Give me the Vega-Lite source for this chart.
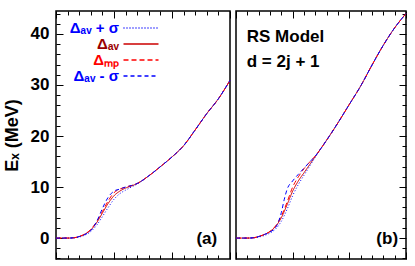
{
  "$schema": "https://vega.github.io/schema/vega-lite/v6.json",
  "padding": {"left": 2, "top": 9, "right": 9, "bottom": 9},
  "spacing": 0,
  "config": {
    "view": {"stroke": "black", "strokeWidth": 1.5},
    "font": "Liberation Sans",
    "axis": {"domain": false, "grid": false, "tickColor": "black", "tickWidth": 1, "labelOverlap": false, "labels": false, "title": null}
  },
  "datasets": {
    "curves": [
      {"panel":"a","series":"Δav","x":0,"y":0},{"panel":"a","series":"Δav","x":0.1,"y":0},{"panel":"a","series":"Δav","x":0.2,"y":0},{"panel":"a","series":"Δav","x":0.3,"y":0.05},{"panel":"a","series":"Δav","x":0.4,"y":0.3},{"panel":"a","series":"Δav","x":0.5,"y":0.8},{"panel":"a","series":"Δav","x":0.6,"y":1.6},{"panel":"a","series":"Δav","x":0.7,"y":3.0},{"panel":"a","series":"Δav","x":0.8,"y":4.9},{"panel":"a","series":"Δav","x":0.9,"y":6.8},{"panel":"a","series":"Δav","x":1.0,"y":8.3},{"panel":"a","series":"Δav","x":1.1,"y":9.2},{"panel":"a","series":"Δav","x":1.2,"y":9.8},{"panel":"a","series":"Δav","x":1.3,"y":10.2},{"panel":"a","series":"Δav","x":1.4,"y":10.7},{"panel":"a","series":"Δav","x":1.6,"y":12.2},{"panel":"a","series":"Δav","x":1.8,"y":14.0},{"panel":"a","series":"Δav","x":2.0,"y":15.9},{"panel":"a","series":"Δav","x":2.2,"y":18.1},{"panel":"a","series":"Δav","x":2.4,"y":21.2},{"panel":"a","series":"Δav","x":2.6,"y":24.4},{"panel":"a","series":"Δav","x":2.8,"y":27.3},{"panel":"a","series":"Δav","x":3.0,"y":30.9},

      {"panel":"a","series":"Δav + σ","x":0,"y":0},{"panel":"a","series":"Δav + σ","x":0.1,"y":0},{"panel":"a","series":"Δav + σ","x":0.2,"y":0},{"panel":"a","series":"Δav + σ","x":0.3,"y":0.03},{"panel":"a","series":"Δav + σ","x":0.4,"y":0.2},{"panel":"a","series":"Δav + σ","x":0.5,"y":0.6},{"panel":"a","series":"Δav + σ","x":0.6,"y":1.3},{"panel":"a","series":"Δav + σ","x":0.7,"y":2.5},{"panel":"a","series":"Δav + σ","x":0.8,"y":4.2},{"panel":"a","series":"Δav + σ","x":0.9,"y":6.0},{"panel":"a","series":"Δav + σ","x":1.0,"y":7.6},{"panel":"a","series":"Δav + σ","x":1.1,"y":8.7},{"panel":"a","series":"Δav + σ","x":1.2,"y":9.4},{"panel":"a","series":"Δav + σ","x":1.3,"y":10.0},{"panel":"a","series":"Δav + σ","x":1.4,"y":10.6},{"panel":"a","series":"Δav + σ","x":1.6,"y":12.2},{"panel":"a","series":"Δav + σ","x":1.8,"y":14.0},{"panel":"a","series":"Δav + σ","x":2.0,"y":15.9},{"panel":"a","series":"Δav + σ","x":2.2,"y":18.1},{"panel":"a","series":"Δav + σ","x":2.4,"y":21.2},{"panel":"a","series":"Δav + σ","x":2.6,"y":24.4},{"panel":"a","series":"Δav + σ","x":2.8,"y":27.3},{"panel":"a","series":"Δav + σ","x":3.0,"y":30.9},

      {"panel":"a","series":"Δmp","x":0,"y":0},{"panel":"a","series":"Δmp","x":0.1,"y":0},{"panel":"a","series":"Δmp","x":0.2,"y":0},{"panel":"a","series":"Δmp","x":0.3,"y":0.05},{"panel":"a","series":"Δmp","x":0.4,"y":0.3},{"panel":"a","series":"Δmp","x":0.5,"y":0.8},{"panel":"a","series":"Δmp","x":0.6,"y":1.7},{"panel":"a","series":"Δmp","x":0.7,"y":3.2},{"panel":"a","series":"Δmp","x":0.8,"y":5.2},{"panel":"a","series":"Δmp","x":0.9,"y":7.3},{"panel":"a","series":"Δmp","x":1.0,"y":8.9},{"panel":"a","series":"Δmp","x":1.1,"y":9.6},{"panel":"a","series":"Δmp","x":1.2,"y":10.0},{"panel":"a","series":"Δmp","x":1.3,"y":10.3},{"panel":"a","series":"Δmp","x":1.4,"y":10.7},{"panel":"a","series":"Δmp","x":1.6,"y":12.2},{"panel":"a","series":"Δmp","x":1.8,"y":14.0},{"panel":"a","series":"Δmp","x":2.0,"y":15.9},{"panel":"a","series":"Δmp","x":2.2,"y":18.1},{"panel":"a","series":"Δmp","x":2.4,"y":21.2},{"panel":"a","series":"Δmp","x":2.6,"y":24.4},{"panel":"a","series":"Δmp","x":2.8,"y":27.3},{"panel":"a","series":"Δmp","x":3.0,"y":30.9},

      {"panel":"a","series":"Δav - σ","x":0,"y":0},{"panel":"a","series":"Δav - σ","x":0.1,"y":0},{"panel":"a","series":"Δav - σ","x":0.2,"y":0},{"panel":"a","series":"Δav - σ","x":0.3,"y":0.05},{"panel":"a","series":"Δav - σ","x":0.4,"y":0.3},{"panel":"a","series":"Δav - σ","x":0.5,"y":0.7},{"panel":"a","series":"Δav - σ","x":0.6,"y":1.5},{"panel":"a","series":"Δav - σ","x":0.7,"y":3.2},{"panel":"a","series":"Δav - σ","x":0.8,"y":5.8},{"panel":"a","series":"Δav - σ","x":0.9,"y":8.0},{"panel":"a","series":"Δav - σ","x":1.0,"y":9.2},{"panel":"a","series":"Δav - σ","x":1.1,"y":9.6},{"panel":"a","series":"Δav - σ","x":1.2,"y":10.0},{"panel":"a","series":"Δav - σ","x":1.3,"y":10.3},{"panel":"a","series":"Δav - σ","x":1.4,"y":10.7},{"panel":"a","series":"Δav - σ","x":1.6,"y":12.2},{"panel":"a","series":"Δav - σ","x":1.8,"y":14.0},{"panel":"a","series":"Δav - σ","x":2.0,"y":15.9},{"panel":"a","series":"Δav - σ","x":2.2,"y":18.1},{"panel":"a","series":"Δav - σ","x":2.4,"y":21.2},{"panel":"a","series":"Δav - σ","x":2.6,"y":24.4},{"panel":"a","series":"Δav - σ","x":2.8,"y":27.3},{"panel":"a","series":"Δav - σ","x":3.0,"y":30.9},

      {"panel":"b","series":"Δav","x":0,"y":0},{"panel":"b","series":"Δav","x":0.1,"y":0},{"panel":"b","series":"Δav","x":0.2,"y":0},{"panel":"b","series":"Δav","x":0.3,"y":0.05},{"panel":"b","series":"Δav","x":0.4,"y":0.3},{"panel":"b","series":"Δav","x":0.5,"y":0.7},{"panel":"b","series":"Δav","x":0.6,"y":1.3},{"panel":"b","series":"Δav","x":0.7,"y":2.3},{"panel":"b","series":"Δav","x":0.8,"y":4.0},{"panel":"b","series":"Δav","x":0.9,"y":6.5},{"panel":"b","series":"Δav","x":1.0,"y":9.2},{"panel":"b","series":"Δav","x":1.1,"y":11.2},{"panel":"b","series":"Δav","x":1.2,"y":12.8},{"panel":"b","series":"Δav","x":1.3,"y":14.4},{"panel":"b","series":"Δav","x":1.4,"y":16.0},{"panel":"b","series":"Δav","x":1.6,"y":19.2},{"panel":"b","series":"Δav","x":1.8,"y":22.6},{"panel":"b","series":"Δav","x":2.0,"y":26.2},{"panel":"b","series":"Δav","x":2.2,"y":29.8},{"panel":"b","series":"Δav","x":2.4,"y":33.9},{"panel":"b","series":"Δav","x":2.6,"y":37.8},{"panel":"b","series":"Δav","x":2.8,"y":41.2},{"panel":"b","series":"Δav","x":3.0,"y":44.0},

      {"panel":"b","series":"Δav + σ","x":0,"y":0},{"panel":"b","series":"Δav + σ","x":0.1,"y":0},{"panel":"b","series":"Δav + σ","x":0.2,"y":0},{"panel":"b","series":"Δav + σ","x":0.3,"y":0.03},{"panel":"b","series":"Δav + σ","x":0.4,"y":0.2},{"panel":"b","series":"Δav + σ","x":0.5,"y":0.5},{"panel":"b","series":"Δav + σ","x":0.6,"y":1.0},{"panel":"b","series":"Δav + σ","x":0.7,"y":1.8},{"panel":"b","series":"Δav + σ","x":0.8,"y":3.3},{"panel":"b","series":"Δav + σ","x":0.9,"y":5.6},{"panel":"b","series":"Δav + σ","x":1.0,"y":8.3},{"panel":"b","series":"Δav + σ","x":1.1,"y":10.5},{"panel":"b","series":"Δav + σ","x":1.2,"y":12.3},{"panel":"b","series":"Δav + σ","x":1.3,"y":14.1},{"panel":"b","series":"Δav + σ","x":1.4,"y":15.9},{"panel":"b","series":"Δav + σ","x":1.6,"y":19.2},{"panel":"b","series":"Δav + σ","x":1.8,"y":22.6},{"panel":"b","series":"Δav + σ","x":2.0,"y":26.2},{"panel":"b","series":"Δav + σ","x":2.2,"y":29.8},{"panel":"b","series":"Δav + σ","x":2.4,"y":33.9},{"panel":"b","series":"Δav + σ","x":2.6,"y":37.8},{"panel":"b","series":"Δav + σ","x":2.8,"y":41.2},{"panel":"b","series":"Δav + σ","x":3.0,"y":44.0},

      {"panel":"b","series":"Δmp","x":0,"y":0},{"panel":"b","series":"Δmp","x":0.1,"y":0},{"panel":"b","series":"Δmp","x":0.2,"y":0},{"panel":"b","series":"Δmp","x":0.3,"y":0.05},{"panel":"b","series":"Δmp","x":0.4,"y":0.3},{"panel":"b","series":"Δmp","x":0.5,"y":0.7},{"panel":"b","series":"Δmp","x":0.6,"y":1.3},{"panel":"b","series":"Δmp","x":0.7,"y":2.4},{"panel":"b","series":"Δmp","x":0.8,"y":4.3},{"panel":"b","series":"Δmp","x":0.9,"y":7.0},{"panel":"b","series":"Δmp","x":1.0,"y":10.0},{"panel":"b","series":"Δmp","x":1.1,"y":12.0},{"panel":"b","series":"Δmp","x":1.2,"y":13.6},{"panel":"b","series":"Δmp","x":1.3,"y":14.9},{"panel":"b","series":"Δmp","x":1.4,"y":16.1},{"panel":"b","series":"Δmp","x":1.6,"y":19.2},{"panel":"b","series":"Δmp","x":1.8,"y":22.6},{"panel":"b","series":"Δmp","x":2.0,"y":26.2},{"panel":"b","series":"Δmp","x":2.2,"y":29.8},{"panel":"b","series":"Δmp","x":2.4,"y":33.9},{"panel":"b","series":"Δmp","x":2.6,"y":37.8},{"panel":"b","series":"Δmp","x":2.8,"y":41.2},{"panel":"b","series":"Δmp","x":3.0,"y":44.0},

      {"panel":"b","series":"Δav - σ","x":0,"y":0},{"panel":"b","series":"Δav - σ","x":0.1,"y":0},{"panel":"b","series":"Δav - σ","x":0.2,"y":0},{"panel":"b","series":"Δav - σ","x":0.3,"y":0.05},{"panel":"b","series":"Δav - σ","x":0.4,"y":0.3},{"panel":"b","series":"Δav - σ","x":0.5,"y":0.7},{"panel":"b","series":"Δav - σ","x":0.6,"y":1.2},{"panel":"b","series":"Δav - σ","x":0.7,"y":2.1},{"panel":"b","series":"Δav - σ","x":0.75,"y":3.2},{"panel":"b","series":"Δav - σ","x":0.8,"y":5.0},{"panel":"b","series":"Δav - σ","x":0.85,"y":7.5},{"panel":"b","series":"Δav - σ","x":0.9,"y":9.5},{"panel":"b","series":"Δav - σ","x":1.0,"y":11.2},{"panel":"b","series":"Δav - σ","x":1.1,"y":12.5},{"panel":"b","series":"Δav - σ","x":1.2,"y":13.7},{"panel":"b","series":"Δav - σ","x":1.3,"y":14.9},{"panel":"b","series":"Δav - σ","x":1.4,"y":16.1},{"panel":"b","series":"Δav - σ","x":1.6,"y":19.2},{"panel":"b","series":"Δav - σ","x":1.8,"y":22.6},{"panel":"b","series":"Δav - σ","x":2.0,"y":26.2},{"panel":"b","series":"Δav - σ","x":2.2,"y":29.8},{"panel":"b","series":"Δav - σ","x":2.4,"y":33.9},{"panel":"b","series":"Δav - σ","x":2.6,"y":37.8},{"panel":"b","series":"Δav - σ","x":2.8,"y":41.2},{"panel":"b","series":"Δav - σ","x":3.0,"y":44.0}
    ],
    "notes": [
      {"panel":"a","kind":"tag","label":"(a)","x":2.78,"y":-0.2},
      {"panel":"b","kind":"tag","label":"(b)","x":2.86,"y":-0.2},
      {"panel":"b","kind":"model","label":"RS Model","x":0.19,"y":38.4},
      {"panel":"b","kind":"model","label":"d = 2j + 1","x":0.19,"y":33.5}
    ]
  },
  "resolve": {"scale": {"color": "independent", "strokeDash": "independent"}},
  "hconcat": [
    {
      "width": 174,
      "height": 248,
      "resolve": {"axis": {"x": "independent", "y": "independent"}},
      "layer": [
        {
          "data": {"name": "curves"},
          "transform": [{"filter": "datum.panel === 'a'"}],
          "mark": {"type": "line", "strokeWidth": 1, "interpolate": "monotone"},
          "encoding": {
            "x": {"field": "x", "type": "quantitative", "scale": {"domain": [0, 3], "nice": false},
                  "axis": {"orient": "bottom", "values": [0, 1, 2, 3], "tickSize": -7}},
            "y": {"field": "y", "type": "quantitative", "scale": {"domain": [-4.1, 44.5], "nice": false, "zero": false},
                  "axis": {"orient": "left", "values": [0, 10, 20, 30, 40], "tickSize": -7, "labels": true,
                           "labelFontSize": 17, "labelFontWeight": "bold", "labelPadding": 14, "labelColor": "black",
                           "title": "Eₓ (MeV)", "titleFontSize": 18, "titleFontWeight": "bold", "titleColor": "black", "titlePadding": 9}},
            "color": {"field": "series", "type": "nominal",
                      "scale": {"domain": ["Δav + σ", "Δav", "Δmp", "Δav - σ"], "range": ["#0000ff", "#cc0000", "#ff0000", "#0000ff"]},
                      "legend": {"orient": "none", "legendX": 77, "legendY": 9, "title": null, "symbolType": "M-2.5,0H2.5", "symbolSize": 196,
                                 "symbolStrokeWidth": 1.5, "labelFontSize": 15, "labelFontWeight": "bold", "labelAlign": "right",
                                 "labelOffset": -30, "rowPadding": 0,
                                 "labelExpr": "replace(replace(datum.label, 'av', 'ₐᵥ'), 'mp', 'ₘₚ')",
                                 "encode": {
                                   "labels": {"update": {"fill": {"signal": "datum.value === 'Δav' ? '#990000' : datum.value === 'Δmp' ? '#ff0000' : '#0000ff'"}}},
                                   "symbols": {"update": {
                                     "stroke": {"signal": "datum.value === 'Δav' ? '#cc0000' : datum.value === 'Δmp' ? '#ff0000' : '#0000ff'"},
                                     "strokeDash": {"signal": "datum.value === 'Δav + σ' ? [1, 2] : datum.value === 'Δmp' ? [5, 3] : datum.value === 'Δav - σ' ? [4, 3] : [1, 0]"}}}}}},
            "strokeDash": {"field": "series", "type": "nominal",
                      "scale": {"domain": ["Δav + σ", "Δav", "Δmp", "Δav - σ"], "range": [[1, 2], [1, 0], [5, 3], [4, 3]]},
                      "legend": null}
          }
        },
        {
          "data": {"name": "notes"},
          "transform": [{"filter": "datum.panel === 'a'"}],
          "mark": {"type": "text", "fontSize": 17, "fontWeight": "bold", "align": "right", "baseline": "middle", "color": "black"},
          "encoding": {
            "x": {"field": "x", "type": "quantitative", "scale": {"domain": [0, 3], "nice": false},
                  "axis": {"orient": "top", "values": [0, 1, 2, 3], "tickSize": -7}},
            "y": {"field": "y", "type": "quantitative",
                  "axis": {"orient": "left", "values": [-4,-2,2,4,6,8,12,14,16,18,22,24,26,28,32,34,36,38,42,44], "tickSize": -4}},
            "text": {"field": "label"}
          }
        },
        {
          "data": {"name": "notes"},
          "transform": [{"filter": "datum.panel === 'a'"}],
          "mark": {"type": "point", "opacity": 0},
          "encoding": {
            "x": {"field": "x", "type": "quantitative",
                  "axis": {"orient": "bottom", "values": [0.2,0.4,0.6,0.8,1.2,1.4,1.6,1.8,2.2,2.4,2.6,2.8], "tickSize": -4}},
            "y": {"field": "y", "type": "quantitative", "axis": null}
          }
        },
        {
          "data": {"name": "notes"},
          "transform": [{"filter": "datum.panel === 'a'"}],
          "mark": {"type": "point", "opacity": 0},
          "encoding": {
            "x": {"field": "x", "type": "quantitative",
                  "axis": {"orient": "top", "values": [0.2,0.4,0.6,0.8,1.2,1.4,1.6,1.8,2.2,2.4,2.6,2.8], "tickSize": -4}},
            "y": {"field": "y", "type": "quantitative", "axis": null}
          }
        }
      ]
    },
    {
      "width": 170,
      "height": 248,
      "resolve": {"axis": {"x": "independent", "y": "independent"}},
      "layer": [
        {
          "data": {"name": "curves"},
          "transform": [{"filter": "datum.panel === 'b'"}],
          "mark": {"type": "line", "strokeWidth": 1, "interpolate": "monotone"},
          "encoding": {
            "x": {"field": "x", "type": "quantitative", "scale": {"domain": [0, 3], "nice": false},
                  "axis": {"orient": "bottom", "values": [0, 1, 2, 3], "tickSize": -7}},
            "y": {"field": "y", "type": "quantitative", "scale": {"domain": [-4.1, 44.5], "nice": false, "zero": false},
                  "axis": {"orient": "right", "values": [0, 10, 20, 30, 40], "tickSize": -7}},
            "color": {"field": "series", "type": "nominal",
                      "scale": {"domain": ["Δav + σ", "Δav", "Δmp", "Δav - σ"], "range": ["#0000ff", "#cc0000", "#ff0000", "#0000ff"]},
                      "legend": null},
            "strokeDash": {"field": "series", "type": "nominal",
                      "scale": {"domain": ["Δav + σ", "Δav", "Δmp", "Δav - σ"], "range": [[1, 2], [1, 0], [5, 3], [4, 3]]},
                      "legend": null}
          }
        },
        {
          "data": {"name": "notes"},
          "transform": [{"filter": "datum.panel === 'b' && datum.kind === 'tag'"}],
          "mark": {"type": "text", "fontSize": 17, "fontWeight": "bold", "align": "right", "baseline": "middle", "color": "black"},
          "encoding": {
            "x": {"field": "x", "type": "quantitative", "scale": {"domain": [0, 3], "nice": false},
                  "axis": {"orient": "top", "values": [0, 1, 2, 3], "tickSize": -7}},
            "y": {"field": "y", "type": "quantitative",
                  "axis": {"orient": "right", "values": [-4,-2,2,4,6,8,12,14,16,18,22,24,26,28,32,34,36,38,42,44], "tickSize": -4}},
            "text": {"field": "label"}
          }
        },
        {
          "data": {"name": "notes"},
          "transform": [{"filter": "datum.panel === 'b' && datum.kind === 'model'"}],
          "mark": {"type": "text", "fontSize": 17, "fontWeight": "bold", "align": "left", "baseline": "alphabetic", "color": "black"},
          "encoding": {
            "x": {"field": "x", "type": "quantitative",
                  "axis": {"orient": "bottom", "values": [0.2,0.4,0.6,0.8,1.2,1.4,1.6,1.8,2.2,2.4,2.6,2.8], "tickSize": -4}},
            "y": {"field": "y", "type": "quantitative", "axis": null},
            "text": {"field": "label"}
          }
        },
        {
          "data": {"name": "notes"},
          "transform": [{"filter": "datum.panel === 'b'"}],
          "mark": {"type": "point", "opacity": 0},
          "encoding": {
            "x": {"field": "x", "type": "quantitative",
                  "axis": {"orient": "top", "values": [0.2,0.4,0.6,0.8,1.2,1.4,1.6,1.8,2.2,2.4,2.6,2.8], "tickSize": -4}},
            "y": {"field": "y", "type": "quantitative", "axis": null}
          }
        }
      ]
    }
  ]
}
